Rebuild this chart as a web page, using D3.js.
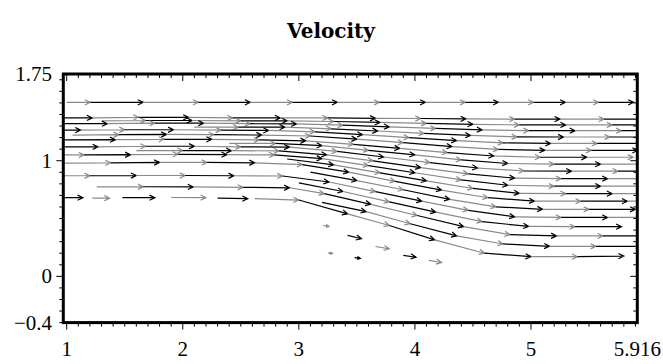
<!DOCTYPE html>
<html>
<head>
<meta charset="utf-8">
<script src="https://cdn.jsdelivr.net/npm/d3@7"></script>
<style>
  body { margin: 0; background: #fff; }
</style>
</head>
<body>
<svg width="663" height="364"></svg>
<script>
// axis labels
const xTickLabels = [1, 2, 3, 4, 5, 5.916];
const yTickLabels = [-0.4, 0, 1, 1.75];

// velocity arrows: each chain is a list of [x, y] points,
// an arrow runs from one point to the next
const topStream = [[1, 1.505], [1.203, 1.505], [1.659, 1.505], [2.134, 1.505], [2.582, 1.505], [2.944, 1.505],
  [3.332, 1.505], [3.694, 1.505], [4.091, 1.505], [4.435, 1.505], [4.72, 1.505], [5.022, 1.505],
  [5.297, 1.505], [5.582, 1.505], [5.884, 1.505]];

const upperStreams = [
  [[0.98, 1.37], [1.22, 1.37], [1.62, 1.375], [2.05, 1.375], [2.43, 1.37], [2.84, 1.37], [3.25, 1.37], [3.66, 1.367], [4.05, 1.365], [4.44, 1.362], [4.86, 1.36], [5.25, 1.36], [5.63, 1.36], [6.0, 1.36]],
  [[1.3, 1.345], [1.68, 1.348], [2.08, 1.348], [2.5, 1.345], [2.9, 1.345], [3.3, 1.339], [3.7, 1.331], [4.1, 1.323], [4.5, 1.315], [4.9, 1.31], [5.3, 1.31], [5.7, 1.31], [6.05, 1.31]],
  [[0.98, 1.32], [1.35, 1.32], [1.76, 1.325], [2.18, 1.325], [2.58, 1.32], [2.98, 1.318], [3.38, 1.307], [3.78, 1.293], [4.18, 1.279], [4.58, 1.267], [4.98, 1.26], [5.38, 1.26], [5.78, 1.26], [6.1, 1.26]],
  [[2.1, 1.29], [2.48, 1.29], [2.88, 1.29], [3.28, 1.276], [3.68, 1.257], [4.08, 1.237], [4.48, 1.219], [4.88, 1.206], [5.28, 1.205], [5.68, 1.205], [6.05, 1.205]],
  [[0.98, 1.265], [1.12, 1.265], [1.5, 1.268], [1.92, 1.268], [2.33, 1.265], [2.74, 1.262], [3.14, 1.25], [3.55, 1.226], [3.95, 1.2], [4.36, 1.174], [4.76, 1.154], [5.17, 1.15], [5.57, 1.15], [5.95, 1.15]],
  [[1.05, 1.222], [1.45, 1.225], [1.86, 1.227], [2.27, 1.225], [2.68, 1.222], [3.1, 1.214], [3.5, 1.187], [3.9, 1.156], [4.32, 1.122], [4.72, 1.098], [5.12, 1.09], [5.52, 1.09], [5.92, 1.09]],
  [[0.98, 1.18], [1.42, 1.182], [1.84, 1.185], [2.25, 1.185], [2.66, 1.18], [3.06, 1.172], [3.47, 1.142], [3.87, 1.106], [4.28, 1.07], [4.68, 1.041], [5.08, 1.03], [5.48, 1.03], [5.88, 1.03]],
  [[2.4, 1.15], [2.8, 1.15], [3.2, 1.13], [3.6, 1.09], [4.0, 1.05], [4.4, 1.007], [4.8, 0.976], [5.2, 0.97], [5.6, 0.97], [6.0, 0.97]],
  [[0.98, 1.12], [1.27, 1.12], [1.68, 1.125], [2.1, 1.125], [2.5, 1.12], [2.92, 1.118], [3.33, 1.08], [3.73, 1.032], [4.13, 0.984], [4.54, 0.937], [4.94, 0.911], [5.35, 0.91], [5.75, 0.91], [6.1, 0.91]],
  [[1.6, 1.087], [2.0, 1.088], [2.42, 1.087], [2.83, 1.085], [3.24, 1.051], [3.64, 0.999], [4.05, 0.941], [4.46, 0.886], [4.86, 0.849], [5.26, 0.845], [5.66, 0.845], [6.05, 0.845]]
];

const lowerStreams = [
  [[0.98, 1.05], [1.15, 1.05], [1.55, 1.052], [1.96, 1.055], [2.38, 1.052], [2.79, 1.05], [3.2, 1.018], [3.6, 0.958], [4.0, 0.896], [4.4, 0.834], [4.8, 0.788], [5.2, 0.78], [5.6, 0.78], [6.0, 0.78]],
  [[2.9, 1.015], [3.3, 0.964], [3.7, 0.895], [4.1, 0.826], [4.5, 0.76], [4.9, 0.718], [5.3, 0.715], [5.7, 0.715], [6.1, 0.715]],
  [[0.98, 0.98], [1.38, 0.982], [1.8, 0.985], [2.21, 0.985], [2.62, 0.982], [3.03, 0.967], [3.43, 0.901], [3.83, 0.822], [4.23, 0.746], [4.63, 0.68], [5.03, 0.65], [5.43, 0.65], [5.83, 0.65], [6.2, 0.65]],
  [[3.1, 0.901], [3.5, 0.828], [3.9, 0.749], [4.3, 0.666], [4.7, 0.601], [5.1, 0.58], [5.5, 0.58], [5.9, 0.58]],
  [[0.98, 0.87], [1.2, 0.87], [1.6, 0.872], [2.02, 0.872], [2.44, 0.87], [2.86, 0.868], [3.26, 0.816], [3.66, 0.733], [4.06, 0.65], [4.46, 0.571], [4.86, 0.515], [5.26, 0.51], [5.66, 0.51], [6.05, 0.51]],
  [[3.0, 0.808], [3.38, 0.734], [3.78, 0.644], [4.18, 0.555], [4.58, 0.473], [4.98, 0.432], [5.38, 0.43], [5.78, 0.43]],
  [[1.26, 0.774], [1.66, 0.775], [2.09, 0.773], [2.52, 0.77], [2.92, 0.766], [3.22, 0.715], [3.62, 0.623], [4.02, 0.526], [4.42, 0.43], [4.82, 0.36], [5.22, 0.35], [5.62, 0.35], [6.0, 0.35]],
  [[3.2, 0.64], [3.58, 0.56], [3.96, 0.455], [4.36, 0.35], [4.76, 0.28], [5.16, 0.26], [5.56, 0.26], [5.95, 0.26]],
  [[2.62, 0.672], [3.0, 0.66], [3.42, 0.54], [3.78, 0.44], [4.17, 0.315], [4.6, 0.2], [5.0, 0.17], [5.4, 0.17], [5.8, 0.175]]
];

// short separate arrows along the bottom row on the left
const bottomLeftPieces = [
  [[0.98, 0.68], [1.14, 0.68]],
  [[1.22, 0.676], [1.37, 0.676]],
  [[1.48, 0.68], [1.76, 0.68]],
  [[1.9, 0.682], [2.2, 0.68]],
  [[2.3, 0.676], [2.56, 0.672]]
];

// small arrows in the slow region behind the step
const eddyArrows = [
  [[3.21, 0.44], [3.26, 0.432]],
  [[3.42, 0.355], [3.54, 0.325]],
  [[3.25, 0.2], [3.29, 0.2]],
  [[3.48, 0.162], [3.53, 0.155]],
  [[3.66, 0.258], [3.78, 0.238]],
  [[3.9, 0.182], [4.01, 0.165]],
  [[4.12, 0.138], [4.23, 0.12]]
];

const svg = d3.select("svg");
const x = d3.scaleLinear().domain([1, 5.916]).range([66.7, 637.3]);
const y = d3.scaleLinear().domain([-0.4, 1.75]).range([322.6, 74]);
const frame = { left: 63.3, right: x(5.916), top: y(1.75), bottom: y(-0.4) };

// title
svg.append("text")
  .attr("x", 331)
  .attr("y", 38)
  .attr("text-anchor", "middle")
  .style("font-family", "'DejaVu Serif', serif")
  .style("font-weight", "bold")
  .style("font-size", "20px")
  .text("Velocity");

svg.append("clipPath").attr("id", "plotclip")
  .append("rect")
  .attr("x", frame.left).attr("y", frame.top)
  .attr("width", frame.right - frame.left).attr("height", frame.bottom - frame.top);

const plot = svg.append("g").attr("clip-path", "url(#plotclip)");

function arrowPath(a, b) {
  const x0 = x(a[0]), y0 = y(a[1]), x1 = x(b[0]), y1 = y(b[1]);
  const ang = Math.atan2(y1 - y0, x1 - x0);
  const len = Math.min(6, Math.hypot(x1 - x0, y1 - y0) * 0.6);
  const s = 0.45;
  return `M${x0},${y0}L${x1},${y1}` +
    `M${x1 - len * Math.cos(ang - s)},${y1 - len * Math.sin(ang - s)}L${x1},${y1}` +
    `L${x1 - len * Math.cos(ang + s)},${y1 - len * Math.sin(ang + s)}`;
}

function drawChains(chains, offset) {
  chains.forEach((chain, r) => {
    for (let i = 1; i < chain.length; i++) {
      plot.append("path")
        .attr("d", arrowPath(chain[i - 1], chain[i]))
        .attr("fill", "none")
        .attr("stroke", (r + i + offset) % 2 ? "#000" : "#8a8a8a")
        .attr("stroke-width", 1.2);
    }
  });
}

drawChains([topStream], 1);
drawChains(upperStreams, 0);
drawChains(lowerStreams, 1);
drawChains(bottomLeftPieces, 0);
drawChains(eddyArrows, 1);

// ticks
const axes = svg.append("g").attr("stroke", "#000");
const xMinor = d3.range(10, 60).map(d => d / 10);
xMinor.forEach(v => {
  const major = Number.isInteger(v);
  const len = major ? 7 : 4;
  axes.append("line").attr("x1", x(v)).attr("x2", x(v))
    .attr("y1", frame.bottom).attr("y2", frame.bottom + len).attr("stroke-width", 1);
  axes.append("line").attr("x1", x(v)).attr("x2", x(v))
    .attr("y1", frame.top).attr("y2", frame.top + len).attr("stroke-width", 1);
});
const yMinor = d3.range(-4, 18).map(d => d / 10);
yMinor.forEach(v => {
  const major = v === 0 || v === 1;
  const len = major ? 7 : 4;
  axes.append("line").attr("y1", y(v)).attr("y2", y(v))
    .attr("x1", frame.left - len).attr("x2", frame.left).attr("stroke-width", 1);
  axes.append("line").attr("y1", y(v)).attr("y2", y(v))
    .attr("x1", frame.right - len).attr("x2", frame.right).attr("stroke-width", 1);
});

// frame
svg.append("rect")
  .attr("x", frame.left).attr("y", frame.top)
  .attr("width", frame.right - frame.left).attr("height", frame.bottom - frame.top)
  .attr("fill", "none").attr("stroke", "#000").attr("stroke-width", 3);

// tick labels
svg.selectAll(".xlab").data(xTickLabels).enter().append("text")
  .attr("x", d => x(d)).attr("y", 356)
  .attr("text-anchor", "middle")
  .style("font-family", "'Liberation Serif', 'Times New Roman', serif")
  .style("font-size", "21px")
  .text(d => d);

svg.selectAll(".ylab").data(yTickLabels).enter().append("text")
  .attr("x", 52).attr("y", d => y(d) + 7)
  .attr("text-anchor", "end")
  .style("font-family", "'Liberation Serif', 'Times New Roman', serif")
  .style("font-size", "21px")
  .text(d => d < 0 ? "\u2212" + Math.abs(d) : d);
</script>
</body>
</html>
